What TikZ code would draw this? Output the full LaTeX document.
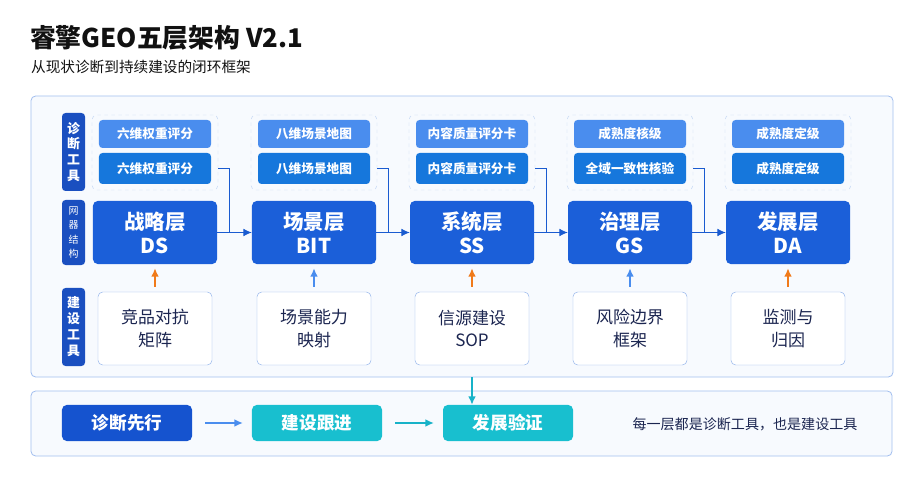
\documentclass[tikz,border=0pt]{standalone}
\usepackage{fontspec}
\setmainfont{Noto Sans CJK SC}
\usepackage{tikz}
\usetikzlibrary{positioning,arrows.meta}

\definecolor{inkdark}{HTML}{111111}
\definecolor{navy}{HTML}{1B2550}
\definecolor{layerblue}{HTML}{1B5FD9}
\definecolor{sideblue}{HTML}{1A4FC0}
\definecolor{toolup}{HTML}{4A8DEE}
\definecolor{tooldown}{HTML}{1677DC}
\definecolor{frameblue}{HTML}{C3D6F4}
\definecolor{panelline}{HTML}{A3BFEF}
\definecolor{panelfill}{HTML}{F7FAFE}
\definecolor{buildline}{HTML}{8FB1EA}
\definecolor{linkblue}{HTML}{1A5BD0}
\definecolor{orangeup}{HTML}{F07A1A}
\definecolor{blueup}{HTML}{4A8DEE}
\definecolor{stepblue}{HTML}{1553CF}
\definecolor{teal}{HTML}{18BFCF}
\definecolor{tealarrow}{HTML}{17B2C8}

\begin{document}
\begin{tikzpicture}[
x=0.03cm, y=-0.03cm,
panel/.style={
  draw=panelline,
  fill=panelfill,
  line width=0.7pt,
  rounded corners=4pt
  },
side/.style={
  fill=sideblue,
  text=white,
  rounded corners=3pt,
  minimum width=0.69cm,
  inner sep=0pt,
  align=center
  },
layer/.style={
  fill=layerblue,
  text=white,
  rounded corners=4pt,
  minimum width=3.72cm,
  minimum height=1.89cm,
  align=center,
  font=\bfseries\fontsize{17.5}{20.4}\selectfont
  },
toolframe/.style={
  draw=frameblue,
  dashed,
  rounded corners=4pt,
  minimum width=3.78cm,
  minimum height=2.25cm
  },
tool/.style={
  text=white,
  rounded corners=3pt,
  minimum width=3.36cm,
  font=\bfseries\fontsize{10.8}{12}\selectfont
  },
build/.style={
  draw=buildline,
  fill=white,
  text=navy,
  rounded corners=4pt,
  minimum width=3.42cm,
  minimum height=2.19cm,
  align=center,
  font=\fontsize{14.5}{19.5}\selectfont
  },
stepbox/.style={
  text=white,
  rounded corners=4pt,
  minimum width=3.9cm,
  minimum height=1.08cm,
  font=\bfseries\fontsize{15}{18}\selectfont
  },
link/.style={
  draw=linkblue,
  line width=0.8pt
  },
>={Latex[length=2.5mm,width=2.3mm]}
]
\useasboundingbox (0,0) rectangle (917,483);

\node[anchor=west, text=inkdark, font=\bfseries\fontsize{22}{26}\selectfont] (title) at (26,38) {睿擎GEO五层架构 V2.1};
\node[anchor=west, text=inkdark, font=\fontsize{12.5}{15}\selectfont] (subtitle) at (27,67) {从现状诊断到持续建设的闭环框架};

\node[panel, minimum width=25.86cm, minimum height=8.43cm] (main) at (462,236.5) {};
\node[panel, minimum width=25.83cm, minimum height=1.95cm] (flow) at (461.5,423.5) {};

\node[side, minimum height=2.34cm, font=\bfseries\fontsize{11}{13.6}\selectfont] (side-1) at (73.5,152) {诊\\断\\工\\具};
\node[side, minimum height=1.95cm, font=\fontsize{8.5}{12}\selectfont] (side-2) at (73.5,232.5) {网\\器\\结\\构};
\node[side, minimum height=2.34cm, font=\bfseries\fontsize{11}{13.6}\selectfont] (side-3) at (73.5,327) {建\\设\\工\\具};

\foreach \cx/\lay/\abbr/\ta/\tb/\bld/\acol [count=\i] in {
  155/战略层/DS/六维权重评分/六维权重评分/{竞品对抗\\矩阵}/orangeup,
  314/场景层/BIT/八维场景地图/八维场景地图/{场景能力\\映射}/blueup,
  472/系统层/SS/内容质量评分卡/内容质量评分卡/{信源建设\\SOP}/orangeup,
  630/治理层/GS/成熟度核级/全域一致性核验/{风险边界\\框架}/blueup,
  788/发展层/DA/成熟度定级/成熟度定级/{监测与\\归因}/orangeup}
{
  \node[toolframe] (toolf-\i) at (\cx,152.5) {};
  \node[tool, fill=toolup, minimum height=0.84cm] (toola-\i) at (\cx,134) {\ta};
  \node[tool, fill=tooldown, minimum height=0.93cm] (toolb-\i) at (\cx,168.5) {\tb};
  \node[layer] (layer-\i) at (\cx,232.5) {\lay\\\abbr};
  \node[build] (build-\i) at (\cx,328.5) {\bld};
  \draw[->, color=\acol, line width=1.4pt, shorten <=0.15cm, shorten >=0.12cm] (build-\i.north) -- (layer-\i.south);
}

\foreach \i [count=\j from 2] in {1,...,4}
{
  \coordinate (join-\i) at ([xshift=0.36cm]layer-\i.east);
  \draw[link] (toolf-\i.east |- toolb-\i) -| (join-\i);
  \draw[link, ->] (layer-\i.east) -- (layer-\j.west);
}

\node[stepbox, fill=stepblue] (step-1) at (127,423) {诊断先行};
\node[stepbox, fill=teal] (step-2) at (317,423) {建设跟进};
\node[stepbox, fill=teal] (step-3) at (508,423) {发展验证};
\node[text=navy, font=\fontsize{12}{14}\selectfont] (note) at (745,424) {每一层都是诊断工具，也是建设工具};

\draw[->, draw=blueup, line width=1pt, shorten <=0.39cm, shorten >=0.27cm] (step-1.east) -- (step-2.west);
\draw[->, draw=tealarrow, line width=1pt, shorten <=0.39cm, shorten >=0.27cm] (step-2.east) -- (step-3.west);
\draw[->, draw=tealarrow, line width=1.3pt] (main.south -| layer-3) -- (step-3.north -| layer-3);
\end{tikzpicture}
\end{document}
